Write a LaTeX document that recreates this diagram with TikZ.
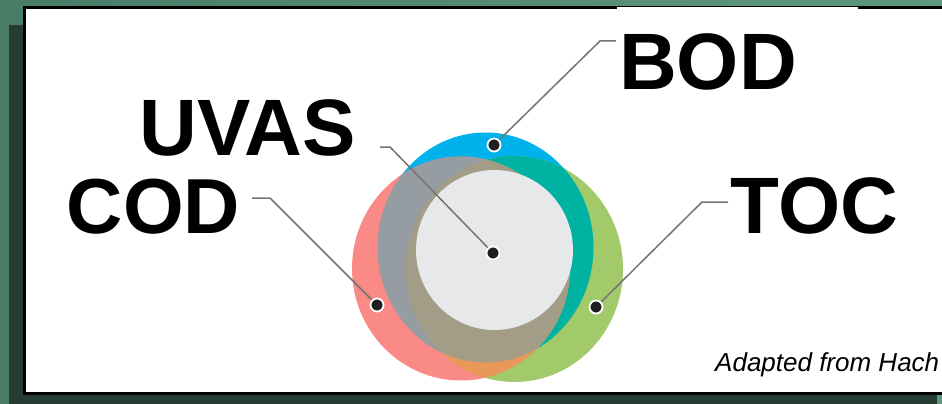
\documentclass[tikz,border=0pt]{standalone}
\usepackage{fontspec}
\setmainfont{Liberation Sans}
\definecolor{bgL}{HTML}{4A7C68}
\definecolor{bgR}{HTML}{5E9880}
\definecolor{bgD}{HTML}{243C31}
\definecolor{cBlue}{HTML}{00B2EC}
\definecolor{cRed}{HTML}{F98A86}
\definecolor{cGreen}{HTML}{A2C96A}
\definecolor{cTeal}{HTML}{00B2A2}
\definecolor{cGray}{HTML}{969DA2}
\definecolor{cOrange}{HTML}{E9985A}
\definecolor{cTan}{HTML}{A39D87}
\definecolor{cLight}{HTML}{E7E8EA}
\definecolor{leader}{HTML}{747474}
\tikzset{
  bigLabel/.style={inner sep=0pt, anchor=base, font=\bfseries\fontsize{80}{90}\selectfont},
  leaderLine/.style={draw=leader, line width=1.5pt},
  dotMark/.style={circle, fill=black!88, draw=white, line width=1.8pt, minimum size=13pt, inner sep=0pt},
}
\begin{document}
\begin{tikzpicture}[x=1pt,y=-1pt]
\useasboundingbox (0,0) rectangle (942,404);
% background
\fill[left color=bgL, right color=bgR] (0,0) rectangle (942,404);
\fill[bgD] (9,25) rectangle (937,404);
\fill[black] (23,6) rectangle (942,395);
\fill[white] (26,9) rectangle (942,392);
\fill[white] (617,7.5) rectangle (858,30);
% circle centres
\coordinate (cB) at (485.5,247.5);
\coordinate (cR) at (461,268.5);
\coordinate (cG) at (514.5,269);
\coordinate (cU) at (494.5,250);
% single circles
\fill[cBlue] (cB) ellipse [x radius=108pt, y radius=115pt];
\fill[cRed] (cR) ellipse [x radius=109pt, y radius=112pt];
\fill[cGreen] (cG) ellipse [x radius=108.5pt, y radius=113pt];
% pairwise overlaps
\begin{scope}
  \clip (cR) ellipse [x radius=109pt, y radius=112pt];
  \fill[cGray] (cB) ellipse [x radius=108pt, y radius=115pt];
\end{scope}
\begin{scope}
  \clip (cG) ellipse [x radius=108.5pt, y radius=113pt];
  \fill[cTeal] (cB) ellipse [x radius=108pt, y radius=115pt];
\end{scope}
\begin{scope}
  \clip (cR) ellipse [x radius=109pt, y radius=112pt];
  \fill[cOrange] (cG) ellipse [x radius=108.5pt, y radius=113pt];
\end{scope}
% triple overlap
\begin{scope}
  \clip (cR) ellipse [x radius=109pt, y radius=112pt];
  \clip (cG) ellipse [x radius=108.5pt, y radius=113pt];
  \fill[cTan] (cB) ellipse [x radius=108pt, y radius=115pt];
\end{scope}
% UVAS circle
\fill[cLight] (cU) ellipse [x radius=78.5pt, y radius=80pt];
% labels
\node[bigLabel] (bod) at (708,89) {BOD};
\node[bigLabel] (uvas) at (247.5,155) {UVAS};
\node[bigLabel, font=\bfseries\fontsize{78}{88}\selectfont] (cod) at (153.5,233) {COD};
\node[bigLabel] (toc) at (814.5,233) {TOC};
\node[inner sep=0pt, anchor=base west, font=\itshape\fontsize{26}{30}\selectfont] (src) at (715,371) {Adapted from Hach};
% leader coordinates
\coordinate (bodDotC) at (494,145);
\coordinate (uvasDotC) at (493,253);
\coordinate (codDotC) at (377,305);
\coordinate (tocDotC) at (596,307);
\coordinate (bodEnd) at (616,41);
\coordinate (bodBend) at (600,41);
\coordinate (uvasEnd) at (380,147);
\coordinate (uvasBend) at (390,147);
\coordinate (codEnd) at (252,198);
\coordinate (codBend) at (270,198);
\coordinate (tocEnd) at (728,202);
\coordinate (tocBend) at (702,202);
% leaders
\draw[leaderLine] (bodDotC) -- (bodBend) -- (bodEnd);
\draw[leaderLine] (uvasDotC) -- (uvasBend) -- (uvasEnd);
\draw[leaderLine] (codDotC) -- (codBend) -- (codEnd);
\draw[leaderLine] (tocDotC) -- (tocBend) -- (tocEnd);
% dots
\node[dotMark] (bodDot) at (bodDotC) {};
\node[dotMark] (uvasDot) at (uvasDotC) {};
\node[dotMark] (codDot) at (codDotC) {};
\node[dotMark] (tocDot) at (tocDotC) {};
\end{tikzpicture}
\end{document}
